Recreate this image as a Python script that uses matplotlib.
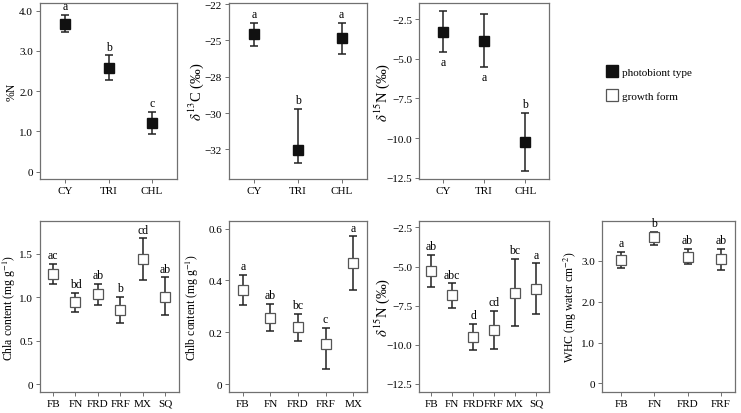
import numpy as np
import matplotlib
matplotlib.use('Agg')
import matplotlib.pyplot as plt
from matplotlib.lines import Line2D

plt.rcParams['font.family'] = ['Liberation Serif', 'DejaVu Serif']
plt.rcParams['mathtext.fontset'] = 'stix'
plt.rcParams['axes.unicode_minus'] = True

# photobiont type panels
photo_cats = ['CY', 'TRI', 'CHL']

n_mean = [3.67, 2.58, 1.21]
n_lo = [3.47, 2.28, 0.93]
n_hi = [3.89, 2.89, 1.49]
n_letters = ['a', 'b', 'c']

c13_mean = [-24.56, -32.52, -24.86]
c13_lo = [-25.37, -33.44, -25.94]
c13_hi = [-23.81, -29.70, -23.78]
c13_letters = ['a', 'b', 'a']
c13_ticks = [-22.5, -25, -27.5, -30, -32.5]
c13_ticklabels = ['\u221222', '\u221225', '\u221228', '\u221230', '\u221232']

n15p_mean = [-3.30, -3.87, -10.26]
n15p_lo = [-4.58, -5.53, -12.10]
n15p_hi = [-2.00, -2.18, -8.41]
n15p_letters = ['a', 'a', 'b']

# growth form panels
form_cats6 = ['FB', 'FN', 'FRD', 'FRF', 'MX', 'SQ']
form_cats5 = ['FB', 'FN', 'FRD', 'FRF', 'MX']
form_cats4 = ['FB', 'FN', 'FRD', 'FRF']

chla_mean = [1.268, 0.947, 1.036, 0.860, 1.440, 1.010]
chla_lo = [1.152, 0.834, 0.913, 0.707, 1.201, 0.797]
chla_hi = [1.384, 1.055, 1.156, 1.006, 1.680, 1.231]
chla_letters = ['ac', 'bd', 'ab', 'b', 'cd', 'ab']

chlb_mean = [0.364, 0.256, 0.219, 0.156, 0.466]
chlb_lo = [0.306, 0.205, 0.166, 0.058, 0.365]
chlb_hi = [0.422, 0.309, 0.270, 0.216, 0.570]
chlb_letters = ['a', 'ab', 'bc', 'c', 'a']

n15g_mean = [-5.26, -6.84, -9.49, -9.04, -6.67, -6.42]
n15g_lo = [-6.28, -7.62, -10.32, -10.24, -8.79, -8.04]
n15g_hi = [-4.26, -6.07, -8.66, -7.81, -4.51, -4.80]
n15g_letters = ['ab', 'abc', 'd', 'cd', 'bc', 'a']

whc_mean = [3.02, 3.58, 3.11, 3.04]
whc_lo = [2.83, 3.39, 2.93, 2.79]
whc_hi = [3.22, 3.72, 3.29, 3.30]
whc_letters = ['a', 'b', 'ab', 'ab']

n15_ticks = [-2.5, -5, -7.5, -10, -12.5]
n15_ticklabels = ['\u22122.5', '\u22125.0', '\u22127.5', '\u221210.0', '\u221212.5']

FRAME = '#707070'


def panel(fig, rect, cats, mean, lo, hi, letters, filled, ylabel, ylim, xlim,
          yticks, yticklabels, label_x, ylabel_size=8.5, below=None):
    ax = fig.add_axes(rect)
    x = np.arange(1, len(cats) + 1)
    mean = np.array(mean)
    lo = np.array(lo)
    hi = np.array(hi)
    yerr = [mean - lo, hi - mean]
    if filled:
        ax.errorbar(x, mean, yerr=yerr, fmt='s', color='black', ms=7.5,
                    mfc='#111111', mec='#111111', ecolor='#222222',
                    elinewidth=1.1, capsize=3, capthick=1.1, zorder=3)
    else:
        ax.errorbar(x, mean, yerr=yerr, fmt='none', ecolor='#222222',
                    elinewidth=1.1, capsize=3, capthick=1.1, zorder=2)
        ax.plot(x, mean, 's', ms=7.5, mfc='white', mec='#555555', mew=0.9,
                zorder=3)
    for i, lab in enumerate(letters):
        if below is not None and below[i]:
            ax.annotate(lab, (x[i], lo[i]), xytext=(0, -3), textcoords='offset points',
                        ha='center', va='top', fontsize=8.5)
        else:
            ax.annotate(lab, (x[i], hi[i]), xytext=(0, 2), textcoords='offset points',
                        ha='center', va='bottom', fontsize=8.5)
    ax.set_xlim(xlim)
    ax.set_ylim(ylim)
    ax.set_xticks(x)
    ax.set_xticklabels(cats, fontsize=8)
    ax.set_yticks(yticks)
    ax.set_yticklabels(yticklabels, fontsize=8)
    ax.tick_params(length=3, width=0.7, color=FRAME, pad=2)
    for s in ax.spines.values():
        s.set_color(FRAME)
        s.set_linewidth(0.9)
    ax.set_ylabel(ylabel, fontsize=ylabel_size)
    ax.yaxis.set_label_coords(label_x, 0.5)
    return ax


fig = plt.figure(figsize=(7.41, 4.14), dpi=100)

W, H = 741.0, 414.0


def rect(x0, x1, y0, y1):
    return [x0 / W, 1 - y1 / H, (x1 - x0) / W, (y1 - y0) / H]


# top row
panel(fig, rect(40, 177, 4, 180), photo_cats, n_mean, n_lo, n_hi, n_letters, True,
      '%N', (-0.18, 4.19), (0.42, 3.58), [0, 1, 2, 3, 4],
      ['0', '1.0', '2.0', '3.0', '4.0'], -0.16, 8.5)
panel(fig, rect(229, 367, 4, 180), photo_cats, c13_mean, c13_lo, c13_hi, c13_letters, True,
      r'$\delta^{13}$C (‰)', (-34.54, -22.43), (0.42, 3.58), c13_ticks,
      c13_ticklabels, -0.17, 10.5)
panel(fig, rect(419, 549, 4, 180), photo_cats, n15p_mean, n15p_lo, n15p_hi, n15p_letters, True,
      r'$\delta^{15}$N (‰)', (-12.58, -1.49), (0.42, 3.58), n15_ticks,
      n15_ticklabels, -0.21, 10.5, below=[True, True, False])

# bottom row
panel(fig, rect(40, 179, 222, 393), form_cats6, chla_mean, chla_lo, chla_hi, chla_letters, False,
      r'Chla content (mg g$^{-1}$)', (-0.09, 1.88), (0.42, 6.62), [0, 0.5, 1.0, 1.5],
      ['0', '0.5', '1.0', '1.5'], -0.155, 8.5)
panel(fig, rect(229, 367, 222, 393), form_cats5, chlb_mean, chlb_lo, chlb_hi, chlb_letters, False,
      r'Chlb content (mg g$^{-1}$)', (-0.03, 0.629), (0.5, 5.5), [0, 0.2, 0.4, 0.6],
      ['0', '0.2', '0.4', '0.6'], -0.2, 8.5)
panel(fig, rect(419, 549, 222, 393), form_cats6, n15g_mean, n15g_lo, n15g_hi, n15g_letters, False,
      r'$\delta^{15}$N (‰)', (-13.02, -2.085), (0.42, 6.62), n15_ticks,
      n15_ticklabels, -0.21, 10.5)
panel(fig, rect(602, 735, 222, 393), form_cats4, whc_mean, whc_lo, whc_hi, whc_letters, False,
      r'WHC (mg water cm$^{-2}$)', (-0.21, 3.98), (0.42, 4.43), [0, 1, 2, 3],
      ['0', '1.0', '2.0', '3.0'], -0.17, 8.5)

# legend
handles = [
    Line2D([], [], marker='s', ls='none', ms=8, mfc='#111111', mec='#111111'),
    Line2D([], [], marker='s', ls='none', ms=8, mfc='white', mec='#555555', mew=0.9),
]
fig.legend(handles, ['photobiont type', 'growth form'], loc='upper left',
           bbox_to_anchor=(595 / W, 1 - 58 / H), frameon=False, fontsize=8,
           handletextpad=0.3, labelspacing=1.3, handlelength=1.2)

fig.savefig('out.png', dpi=100)
